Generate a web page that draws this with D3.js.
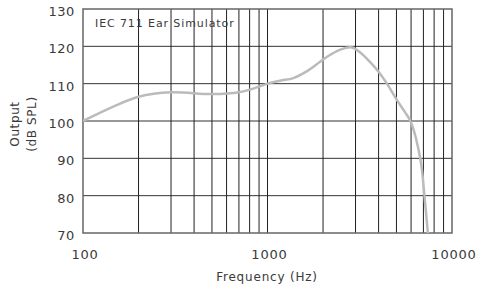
<!DOCTYPE html>
<head>
  <meta charset="utf-8">
  <script src="https://d3js.org/d3.v7.min.js"></script>
  <style>
    body { margin: 0; background: #fff; }
    svg { width: 479px; height: 288px; display: block; }
    text { font-family: "DejaVu Sans", sans-serif; fill: #3a3a3a; }
  </style>
</head>

<body>
  <svg></svg>

  <script>
    const width = 479;
    const height = 288;

    // response curve
    const freqs = [100, 145, 200, 300, 500, 700, 900, 1000, 1170, 1380, 1630, 1920, 2200,
                   2500, 2870, 3170, 3580, 4000, 4440, 5000, 5560, 6000, 6750, 7100, 7400];
    const levels = [100, 103.8, 106.5, 107.7, 107.2, 107.7, 109.2, 110, 110.8, 111.5, 113.3, 115.8, 117.8,
                    119.2, 119.7, 118.4, 115.9, 113.2, 110, 105.8, 102.4, 99.6, 89.6, 79.6, 70];

    const yTicks = [70, 80, 90, 100, 110, 120, 130];
    const xTicks = [100, 1000, 10000];
    const xGrid = [200, 300, 400, 500, 600, 700, 800, 900,
                   1000, 2000, 3000, 4000, 5000, 6000, 7000, 8000, 9000];

    const plotL = 83, plotR = 452, plotT = 9, plotB = 233;

    const x = d3.scaleLog().domain([100, 10000]).range([plotL, plotR]);
    const y = d3.scaleLinear().domain([70, 130]).range([plotB, plotT]);

    const svg = d3.select('svg');

    // grid
    svg.append('g').selectAll('line')
      .data(yTicks.slice(1, -1)).enter().append('line')
      .attr('x1', plotL).attr('x2', plotR)
      .attr('y1', d => y(d)).attr('y2', d => y(d))
      .attr('stroke', '#333').attr('stroke-width', 1);

    svg.append('g').selectAll('line')
      .data(xGrid).enter().append('line')
      .attr('x1', d => x(d)).attr('x2', d => x(d))
      .attr('y1', plotT).attr('y2', plotB)
      .attr('stroke', '#222').attr('stroke-width', 1);

    // frame
    svg.append('rect')
      .attr('x', plotL).attr('y', plotT)
      .attr('width', plotR - plotL).attr('height', plotB - plotT)
      .attr('fill', 'none').attr('stroke', '#666').attr('stroke-width', 1.5);

    // curve
    svg.append('clipPath').attr('id', 'plot')
      .append('rect')
      .attr('x', plotL).attr('y', plotT)
      .attr('width', plotR - plotL).attr('height', plotB - plotT);

    const line = d3.line()
      .x((d, i) => x(freqs[i]))
      .y(d => y(d))
      .curve(d3.curveCatmullRom.alpha(0.5));

    svg.append('path')
      .attr('clip-path', 'url(#plot)')
      .attr('d', line(levels))
      .attr('fill', 'none')
      .attr('stroke', '#bbb')
      .attr('stroke-width', 2.5);

    // tick labels
    svg.append('g').selectAll('text')
      .data(yTicks).enter().append('text')
      .attr('x', 75).attr('y', d => y(d) + 7)
      .attr('text-anchor', 'end')
      .style('font-size', '13px')
      .style('letter-spacing', '0.6px')
      .text(d => d);

    svg.append('g').selectAll('text')
      .data(xTicks).enter().append('text')
      .attr('x', d => x(d) + 2).attr('y', 259)
      .attr('text-anchor', 'middle')
      .style('font-size', '13px')
      .style('letter-spacing', '0.8px')
      .text(d => d);

    // titles
    svg.append('text')
      .attr('x', 267).attr('y', 281)
      .attr('text-anchor', 'middle')
      .style('font-size', '12px')
      .style('letter-spacing', '0.8px')
      .text('Frequency (Hz)');

    svg.append('text')
      .attr('transform', 'translate(19,124)rotate(-90)')
      .attr('text-anchor', 'middle')
      .style('font-size', '12px')
      .style('letter-spacing', '0.6px')
      .text('Output');

    svg.append('text')
      .attr('transform', 'translate(36,124)rotate(-90)')
      .attr('text-anchor', 'middle')
      .style('font-size', '12px')
      .style('letter-spacing', '0.6px')
      .text('(dB SPL)');

    svg.append('text')
      .attr('x', 95).attr('y', 27)
      .style('font-size', '11px')
      .style('letter-spacing', '0.9px')
      .text('IEC 711 Ear Simulator');
  </script>
</body>
